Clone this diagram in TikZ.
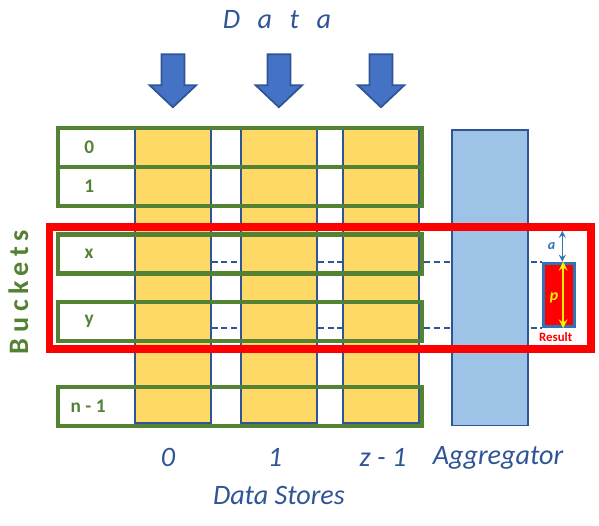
\documentclass[tikz,border=0pt]{standalone}
\usepackage{fontspec}
\setmainfont{Carlito}
\usepackage{xcolor}
\usepackage{tikz}
\usetikzlibrary{arrows, backgrounds}
\definecolor{textblue}{HTML}{2F5597}
\definecolor{arrowblue}{HTML}{4472C4}
\definecolor{storeyellow}{HTML}{FFD966}
\definecolor{bucketgreen}{HTML}{548235}
\definecolor{aggblue}{HTML}{9DC3E6}
\definecolor{resultblue}{HTML}{2E75B6}
\tikzstyle{store} = [rectangle, minimum width=1.52cm, minimum height=5.88cm, fill=storeyellow, draw=textblue, line width=0.9pt]
\tikzstyle{aggregator} = [rectangle, minimum width=1.53cm, minimum height=5.91cm, fill=aggblue, draw=textblue, line width=0.9pt]
\tikzstyle{bucket} = [rectangle, minimum width=7.29cm, minimum height=0.78cm, draw=bucketgreen, line width=2.3pt]
\tikzstyle{buckettext} = [text=bucketgreen, font=\fontsize{11}{13}\selectfont\bfseries]
\tikzstyle{bluetext} = [text=textblue, font=\fontsize{16}{19}\selectfont\itshape]
\tikzstyle{dataarrow} = [fill=arrowblue, draw=textblue, line width=1pt]
\tikzstyle{dashline} = [draw=textblue, line width=1pt, dash pattern=on 3.5pt off 2pt]
\tikzstyle{arrow} = [thick,<->,>=stealth]

\begin{document}
\begin{tikzpicture}[x=0.02cm, y=-0.02cm]
   \useasboundingbox (0,0) rectangle (599,525);
   % data stores and aggregator
   \node (store0) [store] at (172.9,276) {};
   \node (store1) [store] at (278.9,276) {};
   \node (store2) [store] at (381,276) {};
   \node (agg) [aggregator] at (490,277.7) {};
   \foreach \s in {store0, store1, store2}
      \draw [dataarrow, shift={(\s.north)}] (-11.5,-74) -- (11.5,-74) -- (11.5,-43) -- (23.3,-43) -- (0,-21) -- (-23.3,-43) -- (-11.5,-43) -- cycle;
   % buckets
   \node (row0) [bucket] at (239.9,147.2) {};
   \node (row1) [bucket] at (239.9,186.2) {};
   \node (rowx) [bucket] at (239.9,254) {};
   \node (rowy) [bucket] at (239.9,321.2) {};
   \node (rown) [bucket] at (239.9,406.2) {};
   \node [buckettext] at ([xshift=0.67cm]row0.west) {0};
   \node [buckettext] at ([xshift=0.67cm]row1.west) {1};
   \node [buckettext] at ([xshift=0.67cm]rowx.west) {x};
   \node [buckettext] at ([xshift=0.67cm]rowy.west) {y};
   \node [buckettext] at ([xshift=0.65cm]rown.west) {n - 1};
   % query window and result
   \node (focus) [rectangle, minimum width=10.83cm, minimum height=2.44cm, draw=red, line width=4.25pt] at (320.35,288) {};
   \node (result) [rectangle, minimum width=0.62cm, minimum height=1.27cm, fill=red, draw=resultblue, line width=1.7pt] at (558.7,295) {};
   \begin{scope}[on background layer]
      \draw [dashline] (result.north west -| store0.east) -- (result.north west);
      \draw [dashline] (result.south west -| store0.east) -- (result.south west);
   \end{scope}
   \coordinate (atop) at (562.3,230.7);
   \draw [arrow, draw=resultblue] (atop) -- (atop |- result.north);
   \draw [arrow, draw=yellow, line width=1.2pt] ([xshift=0.09cm]result.north) -- ([xshift=0.09cm]result.south);
   \node [text=resultblue, font=\fontsize{8}{9}\selectfont\bfseries\itshape] at (551.7,246) {a};
   \node [text=yellow, font=\fontsize{9}{10}\selectfont\bfseries\itshape] at (554,297.7) {p};
   \node [text=red, font=\fontsize{7.3}{8}\selectfont\bfseries] at (555.7,337.3) {Result};
   % labels
   \node (data) [bluetext] at (277,20) {D\hspace{10pt}a\hspace{10pt}t\hspace{10pt}a};
   \node (lab0) [bluetext] at ([xshift=-0.1cm, yshift=-0.68cm]store0.south) {0};
   \node (lab1) [bluetext] at ([xshift=-0.08cm, yshift=-0.68cm]store1.south) {1};
   \node (lab2) [bluetext] at ([xshift=0.04cm, yshift=-0.68cm]store2.south) {z - 1};
   \node (labagg) [bluetext] at ([xshift=0.16cm, yshift=-0.64cm]agg.south) {Aggregator};
   \node (stores) [bluetext] at ([xshift=0.08cm, yshift=-0.76cm]lab1) {Data Stores};
   \node (buckets) [rotate=90, text=bucketgreen, font=\fontsize{16}{19}\selectfont\bfseries\addfontfeature{LetterSpace=20}] at (18.3,292) {Buckets};
\end{tikzpicture}
\end{document}
